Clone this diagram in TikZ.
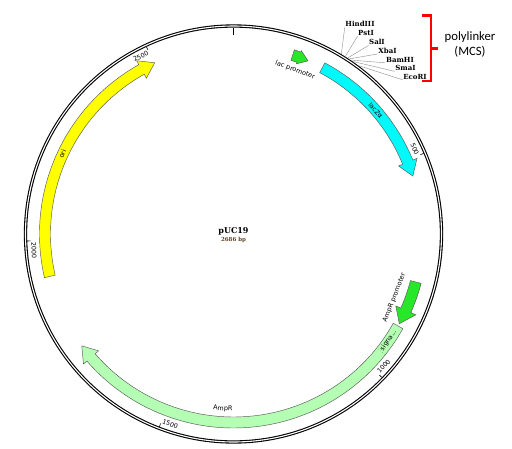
\documentclass[tikz,border=0pt]{standalone}
\usepackage{fontspec}
\setmainfont{DejaVu Sans}
\newfontfamily\serfont{DejaVu Serif}
\newfontfamily\calfont{Carlito}
\definecolor{oriyellow}{RGB}{255,255,0}
\definecolor{laccyan}{RGB}{0,250,250}
\definecolor{promgreen}{RGB}{40,230,40}
\definecolor{ampgreen}{RGB}{180,255,180}
\definecolor{bpbrown}{RGB}{95,65,35}
\def\ri{183}\def\ro{194}\def\rm{188.5}
\newcommand\feat[5]{\filldraw[featline,fill=#5] ({90-#1}:\ri)
  arc[start angle=90-#1,end angle=90-#2+#3,radius=\ri]
  -- ({90-#2+#3}:{\ri-#4}) -- ({90-#2}:\rm) -- ({90-#2+#3}:{\ro+#4}) -- ({90-#2+#3}:\ro)
  arc[start angle=90-#2+#3,end angle=90-#1,radius=\ro] -- cycle;}
\tikzset{featline/.style={draw=black!65,line width=0.45pt},
  flab/.style={font=\fontsize{6.5}{7}\selectfont,inner sep=0pt},
  enz/.style={font=\serfont\bfseries\fontsize{7}{8}\selectfont,inner sep=0.5pt},
  sitel/.style={draw=black!45,line width=0.4pt},
  ticklab/.style={font=\fontsize{6.3}{7}\selectfont,inner sep=1pt}}
\begin{document}
\begin{tikzpicture}[x=1pt,y=1pt]
  \useasboundingbox[fill=white] (-233.5,-214) rectangle (278.5,234);
  \draw[line width=1.1pt,double=white,double distance=1.1pt] (0,0) circle (208);
  \draw[line width=0.8pt] (90:206.5) -- (90:199);
  \foreach \p/\rt/\an in {500/-67.01/east,1000/45.97/west,1500/-21.04/west,2000/-88.06/west,2500/24.93/east}{
    \draw[line width=0.6pt] ({90-\p/2686*360}:206.5) -- ({90-\p/2686*360}:203);
    \node[ticklab,anchor=\an,rotate=\rt] (t\p) at ({90-\p/2686*360}:200) {\p};
  }
  \feat{257}{335.3}{4.5}{4.5}{oriyellow}
  \feat{28.1}{72.1}{4.5}{4.5}{laccyan}
  \feat{18.3}{23.3}{3}{1.5}{promgreen}
  \feat{104.75}{118.4}{4.5}{5.5}{promgreen}
  \feat{119.2}{233.6}{4.5}{4.5}{ampgreen}
  \draw[dotted,black!60] ({90-128.5}:\ri) -- ({90-128.5}:\ro);
  \node[flab,rotate=65] (orilab) at ({90-295.1}:189) {ori};
  \node[flab,rotate=-49] (laczlab) at ({90-49}:188.5) {lacZα};
  \node[flab,rotate=-20.6] (placlab) at ({90-20.6}:175) {lac promoter};
  \node[flab,rotate=68.4] (pamplab) at ({90-111.6}:173) {AmpR promoter};
  \node[flab,rotate=-3.5] (amplab) at ({90-183.5}:175) {AmpR};
  \node[flab,rotate=55.5] (siglab) at ({90-124.5}:188) {signa...};
  \foreach \n/\a/\x/\y in {HindIII/59.1/126.5/210,PstI/57.8/132.5/201,SalI/57/143.5/192,
    XbaI/56.5/154/183.5,BamHI/55.9/166.5/174.5,SmaI/55.2/172/166,EcoRI/53.2/181.5/157.5}{
    \coordinate (s\n) at (\a:210);
    \node[enz] (\n) at (\x,\y) {\n};
    \draw[sitel] (s\n) -- (\n.south west);
  }
  \node[font=\serfont\bfseries\fontsize{8}{9}\selectfont] (name) at (0,2.3) {pUC19};
  \node[font=\serfont\bfseries\fontsize{5.5}{6}\selectfont,text=bpbrown] (size) at (0,-6) {2686 bp};
  \draw[red,line width=2.5pt] (188.5,218.5) -- (197.5,218.5) -- (197.5,153) -- (188.5,153)
    (197.5,185.5) -- (204.5,185.5);
  \node[font=\calfont\fontsize{12.7}{15}\selectfont,align=center] (mcs) at (236.5,189.5) {polylinker\\(MCS)};
\end{tikzpicture}
\end{document}
